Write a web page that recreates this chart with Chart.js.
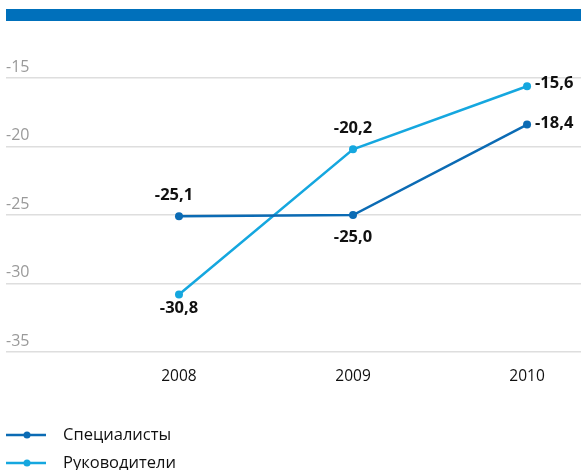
<!DOCTYPE html>
<html>
<head>
<meta charset="utf-8">
<script src="https://cdn.jsdelivr.net/npm/chart.js@4"></script>
<style>
  body { margin: 0; background: #fff; }
  canvas { display: block; }
</style>
</head>
<body>
<canvas id="myChart" width="581" height="470"></canvas>
<script>
const years = [2008, 2009, 2010];
const specialists = [-25.1, -25.0, -18.4];
const managers = [-30.8, -20.2, -15.6];
const yTicks = [-15, -20, -25, -30, -35];
const seriesNames = ['Специалисты', 'Руководители'];

const darkBlue = '#0b6bb4';
const lightBlue = '#15a7df';
const fontFamily = '"Open Sans", "DejaVu Sans", sans-serif';

// where each value label sits relative to its point
const labelPlace = [
    [{ dx: -5, dy: -21, align: 'center' }, { dx: 0, dy: 22, align: 'center' }, { dx: 8, dy: -1, align: 'left' }],
    [{ dx: 0, dy: 14, align: 'center' }, { dx: 0, dy: -21, align: 'center' }, { dx: 8, dy: -3, align: 'left' }]
];

const topBar = {
    id: 'topBar',
    beforeDraw(chart) {
        const ctx = chart.ctx;
        ctx.save();
        ctx.fillStyle = '#0070bb';
        ctx.fillRect(6, 9, chart.width - 6, 12);
        ctx.restore();
    }
};

const valueLabels = {
    id: 'valueLabels',
    afterDatasetsDraw(chart) {
        const ctx = chart.ctx;
        ctx.save();
        ctx.font = 'bold 16.5px ' + fontFamily;
        ctx.fillStyle = '#111';
        ctx.textBaseline = 'middle';
        chart.data.datasets.forEach((ds, i) => {
            const meta = chart.getDatasetMeta(i);
            meta.data.forEach((pt, j) => {
                const p = labelPlace[i][j];
                ctx.textAlign = p.align;
                const txt = ds.data[j].y.toFixed(1).replace('.', ',');
                ctx.fillText(txt, pt.x + p.dx, pt.y + p.dy);
            });
        });
        ctx.restore();
    }
};

const bottomLegend = {
    id: 'bottomLegend',
    afterDraw(chart) {
        const ctx = chart.ctx;
        ctx.save();
        ctx.font = '16.5px ' + fontFamily;
        ctx.textBaseline = 'middle';
        ctx.textAlign = 'left';
        chart.data.datasets.forEach((ds, i) => {
            const y = 435 + i * 28;
            ctx.strokeStyle = ds.borderColor;
            ctx.lineWidth = 2.5;
            ctx.beginPath();
            ctx.moveTo(6, y);
            ctx.lineTo(46, y);
            ctx.stroke();
            ctx.fillStyle = ds.borderColor;
            ctx.beginPath();
            ctx.arc(27, y, 3.5, 0, Math.PI * 2);
            ctx.fill();
            ctx.fillStyle = '#111';
            ctx.fillText(ds.label, 63, y);
        });
        ctx.restore();
    }
};

const config = {
    type: 'line',
    data: {
        datasets: [{
            label: seriesNames[0],
            data: years.map((x, i) => ({ x: x, y: specialists[i] })),
            borderColor: darkBlue,
            backgroundColor: darkBlue,
            borderWidth: 2.5,
            pointRadius: 4,
            pointBackgroundColor: darkBlue,
            pointBorderWidth: 0
        }, {
            label: seriesNames[1],
            data: years.map((x, i) => ({ x: x, y: managers[i] })),
            borderColor: lightBlue,
            backgroundColor: lightBlue,
            borderWidth: 2.5,
            pointRadius: 4,
            pointBackgroundColor: lightBlue,
            pointBorderWidth: 0
        }]
    },
    options: {
        responsive: false,
        animation: false,
        layout: {
            autoPadding: false,
            padding: { top: 78, left: 6, right: 0, bottom: 78 }
        },
        scales: {
            x: {
                type: 'linear',
                min: 2007.006,
                max: 2010.31,
                afterBuildTicks: scale => { scale.ticks = years.map(v => ({ value: v })); },
                afterFit: scale => {
                    scale.height = 40;
                    scale.paddingLeft = 0;
                    scale.paddingRight = 0;
                },
                grid: { display: false, drawTicks: false },
                border: { display: false },
                ticks: {
                    padding: 15,
                    color: '#111',
                    font: { family: fontFamily, size: 15.5 },
                    callback: v => String(v)
                }
            },
            y: {
                min: -35,
                max: -15,
                afterBuildTicks: scale => { scale.ticks = yTicks.map(v => ({ value: v })); },
                afterFit: scale => {
                    scale.width = 0;
                    scale.paddingLeft = 0;
                    scale.paddingRight = 0;
                },
                grid: { color: '#dedede', lineWidth: 1.5, drawTicks: false },
                border: { display: false },
                ticks: {
                    mirror: true,
                    padding: 0,
                    labelOffset: -11,
                    color: '#9a9a9a',
                    font: { family: fontFamily, size: 16 },
                    callback: v => String(v)
                }
            }
        },
        plugins: {
            legend: { display: false },
            tooltip: { enabled: false }
        }
    },
    plugins: [topBar, valueLabels, bottomLegend]
};

var myChart = new Chart(document.getElementById('myChart'), config);
</script>
</body>
</html>
